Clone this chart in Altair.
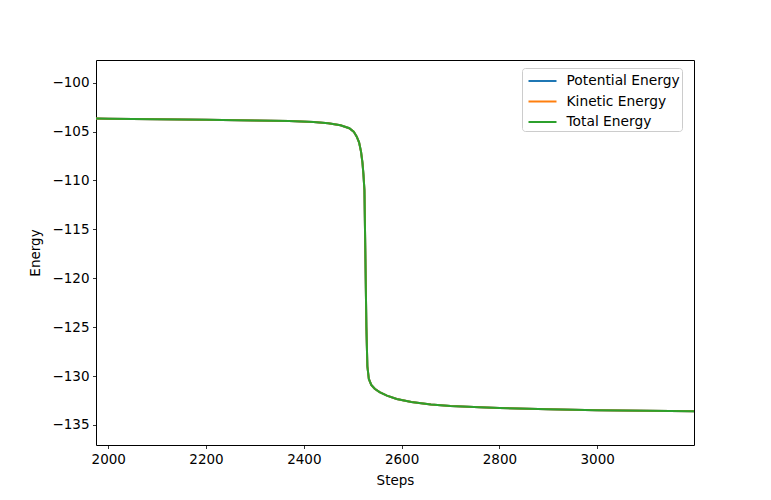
import altair as alt
import pandas as pd

steps = [1975, 2000, 2100, 2200, 2300, 2370, 2420, 2450, 2475, 2493, 2502, 2508,
         2513, 2517, 2520, 2522, 2524, 2526, 2528, 2530, 2533, 2538, 2545, 2555,
         2570, 2590, 2620, 2660, 2700, 2760, 2800, 2900, 3000, 3100, 3198]
total_energy = [-103.66, -103.68, -103.73, -103.79, -103.86, -103.93, -104.02, -104.15,
                -104.35, -104.66, -105.00, -105.50, -106.10, -107.05, -108.20, -109.40,
                -111.00, -118.00, -125.00, -129.00, -130.30, -130.90, -131.30, -131.65,
                -132.00, -132.35, -132.65, -132.90, -133.05, -133.20, -133.27, -133.40,
                -133.50, -133.56, -133.60]
potential_energy = list(total_energy)
kinetic_energy = list(total_energy)

series_names = ["Potential Energy", "Kinetic Energy", "Total Energy"]
series_colors = ["#1f77b4", "#ff7f0e", "#2ca02c"]
y_ticks = [-100, -105, -110, -115, -120, -125, -130, -135]
x_ticks = [2000, 2200, 2400, 2600, 2800, 3000]

rows = []
for name, vals in zip(series_names, [potential_energy, kinetic_energy, total_energy]):
    for s, v in zip(steps, vals):
        rows.append({"Steps": s, "Energy": v, "Series": name})
df = pd.DataFrame(rows)

FONT = "DejaVu Sans"

chart = alt.Chart(df).mark_line(strokeWidth=2, clip=True).encode(
    x=alt.X("Steps:Q", scale=alt.Scale(domain=[1975, 3198], nice=False, zero=False),
            axis=alt.Axis(values=x_ticks, format="d", title="Steps", titlePadding=8)),
    y=alt.Y("Energy:Q", scale=alt.Scale(domain=[-137.05, -97.68], nice=False, zero=False),
            axis=alt.Axis(values=y_ticks, format="d", title="Energy", titlePadding=9)),
    color=alt.Color("Series:N",
                    scale=alt.Scale(domain=series_names, range=series_colors),
                    legend=alt.Legend(title=None, orient="none", legendX=426, legendY=8,
                                      symbolType="M-1.4,0H1.4", symbolSize=400,
                                      symbolStrokeWidth=2, symbolOffset=7.5,
                                      labelFontSize=13.8,
                                      labelFont=FONT, labelColor="black",
                                      rowPadding=2.5, padding=2, labelOffset=13,
                                      strokeColor="#cccccc", fillColor="white",
                                      cornerRadius=3)),
    detail="Series:N",
).properties(
    width=598, height=385,
    autosize=alt.AutoSizeParams(type="none"),
    padding={"left": 88, "top": 52, "right": 69, "bottom": 47},
).configure_view(
    stroke="black", strokeWidth=1
).configure_axis(
    domain=False, grid=False, tickColor="black", tickSize=3.5, tickWidth=0.8,
    labelFont=FONT, labelFontSize=13.5, labelColor="black", labelPadding=3.5,
    titleFont=FONT, titleFontSize=13.5, titleFontWeight="normal", titleColor="black",
)

chart.save("out.html", embed_options={"renderer": "svg", "actions": False})
